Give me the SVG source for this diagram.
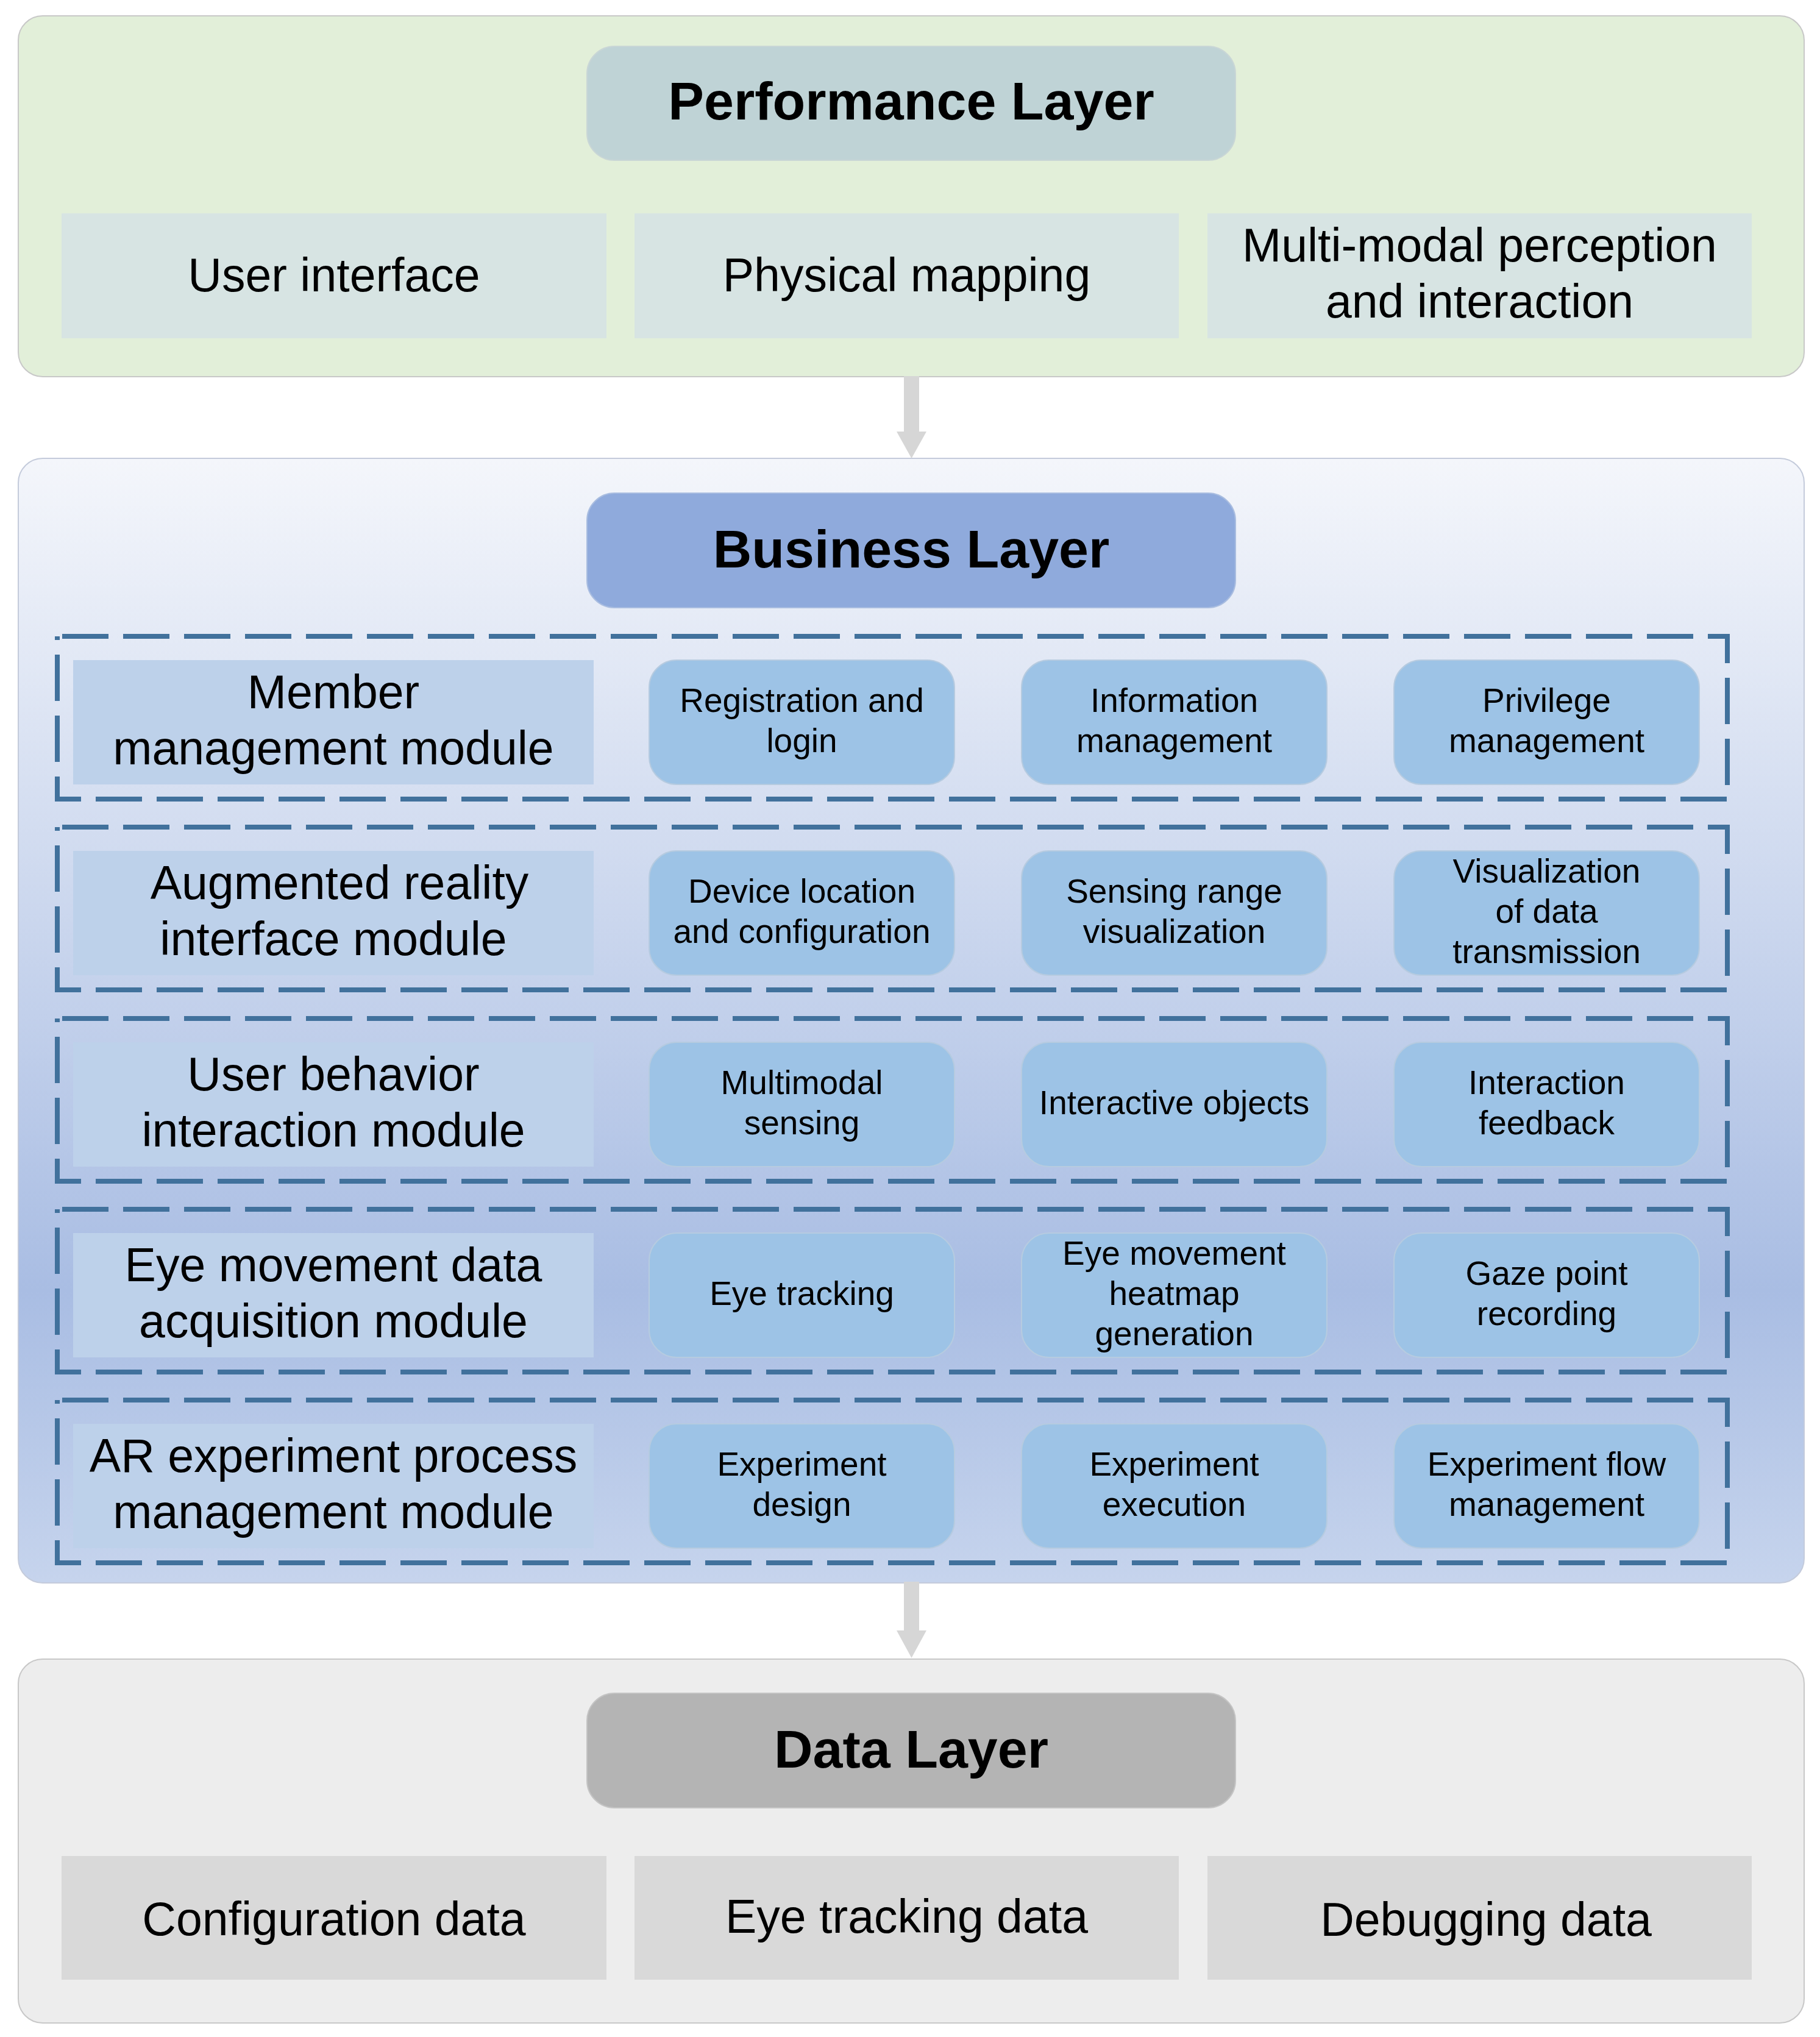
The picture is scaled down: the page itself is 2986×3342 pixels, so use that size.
<svg xmlns="http://www.w3.org/2000/svg" width="2986" height="3342" viewBox="0 0 2986 3342">
<defs>
<linearGradient id="bizGrad" x1="0" y1="0" x2="0" y2="1">
<stop offset="0" stop-color="#f4f6fb"/>
<stop offset="0.74" stop-color="#a9bde3"/>
<stop offset="1" stop-color="#c6d4ed"/>
</linearGradient>
<style>
text{font-family:"Liberation Sans",Arial,sans-serif;fill:#000;text-anchor:middle}
.title{font-size:88px;font-weight:bold}
.big{font-size:77px}
.small{font-size:55px}
.container{stroke:#c8c8c8;stroke-width:2}
.dash{fill:none;stroke:#41719c;stroke-width:8;stroke-dasharray:76 24;stroke-dashoffset:92}
.label{fill:#bdd1ea}
.sub{fill:#9dc3e6;stroke:#b6cbe0;stroke-width:2}
.arrow{fill:#d6d6d6}
</style>
</defs>
<rect width="2986" height="3342" fill="#ffffff"/>

<g id="performance-layer">
<rect class="container" x="30" y="26" width="2930" height="592" rx="40" fill="#e2efd9"/>
<g id="performance-title">
<rect x="963" y="76" width="1064" height="187" rx="45" fill="#bfd3d6" stroke="#c9d6d6" stroke-width="2"/>
<text class="title" x="1495" y="196">Performance Layer</text>
</g>
<g id="user-interface">
<rect x="101" y="350" width="894" height="205" fill="#d7e4e3"/>
<text class="big" x="548" y="478">User interface</text>
</g>
<g id="physical-mapping">
<rect x="1041" y="350" width="893" height="205" fill="#d7e4e3"/>
<text class="big" x="1487.5" y="478">Physical mapping</text>
</g>
<g id="multimodal-perception">
<rect x="1981" y="350" width="893" height="205" fill="#d7e4e3"/>
<text class="big" x="2427.5" y="429">Multi-modal perception</text>
<text class="big" x="2427.5" y="521">and interaction</text>
</g>
</g>

<g id="business-layer">
<rect x="30" y="752" width="2930" height="1845" rx="40" fill="url(#bizGrad)" stroke="#c4cbdb" stroke-width="2"/>
<g id="business-title">
<rect x="963" y="809" width="1064" height="188" rx="45" fill="#8faadc" stroke="#a9bde0" stroke-width="2"/>
<text class="title" x="1495" y="931">Business Layer</text>
</g>

<g id="member-module">
<rect class="dash" x="94" y="1044" width="2740" height="267"/>
<rect class="label" x="120" y="1083" width="854" height="204"/>
<text class="big" x="547" y="1162">Member</text>
<text class="big" x="547" y="1254">management module</text>
<g id="registration-login"><rect class="sub" x="1065" y="1083" width="501" height="204" rx="45"/>
<text class="small" x="1315.5" y="1168">Registration and</text><text class="small" x="1315.5" y="1234">login</text></g>
<g id="information-management"><rect class="sub" x="1676" y="1083" width="501" height="204" rx="45"/>
<text class="small" x="1926.5" y="1168">Information</text><text class="small" x="1926.5" y="1234">management</text></g>
<g id="privilege-management"><rect class="sub" x="2287" y="1083" width="501" height="204" rx="45"/>
<text class="small" x="2537.5" y="1168">Privilege</text><text class="small" x="2537.5" y="1234">management</text></g>
</g>

<g id="ar-interface-module">
<rect class="dash" x="94" y="1357" width="2740" height="267"/>
<rect class="label" x="120" y="1396" width="854" height="204"/>
<text class="big" x="557" y="1475">Augmented reality</text>
<text class="big" x="547" y="1567">interface module</text>
<g id="device-location"><rect class="sub" x="1065" y="1396" width="501" height="204" rx="45"/>
<text class="small" x="1315.5" y="1481">Device location</text><text class="small" x="1315.5" y="1547">and configuration</text></g>
<g id="sensing-range"><rect class="sub" x="1676" y="1396" width="501" height="204" rx="45"/>
<text class="small" x="1926.5" y="1481">Sensing range</text><text class="small" x="1926.5" y="1547">visualization</text></g>
<g id="data-transmission-vis"><rect class="sub" x="2287" y="1396" width="501" height="204" rx="45"/>
<text class="small" x="2537.5" y="1448">Visualization</text><text class="small" x="2537.5" y="1514">of data</text><text class="small" x="2537.5" y="1580">transmission</text></g>
</g>

<g id="user-behavior-module">
<rect class="dash" x="94" y="1671" width="2740" height="267"/>
<rect class="label" x="120" y="1710" width="854" height="204"/>
<text class="big" x="547" y="1789">User behavior</text>
<text class="big" x="547" y="1881">interaction module</text>
<g id="multimodal-sensing"><rect class="sub" x="1065" y="1710" width="501" height="204" rx="45"/>
<text class="small" x="1315.5" y="1795">Multimodal</text><text class="small" x="1315.5" y="1861">sensing</text></g>
<g id="interactive-objects"><rect class="sub" x="1676" y="1710" width="501" height="204" rx="45"/>
<text class="small" x="1926.5" y="1828">Interactive objects</text></g>
<g id="interaction-feedback"><rect class="sub" x="2287" y="1710" width="501" height="204" rx="45"/>
<text class="small" x="2537.5" y="1795">Interaction</text><text class="small" x="2537.5" y="1861">feedback</text></g>
</g>

<g id="eye-movement-module">
<rect class="dash" x="94" y="1984" width="2740" height="267"/>
<rect class="label" x="120" y="2023" width="854" height="204"/>
<text class="big" x="547" y="2102">Eye movement data</text>
<text class="big" x="547" y="2194">acquisition module</text>
<g id="eye-tracking"><rect class="sub" x="1065" y="2023" width="501" height="204" rx="45"/>
<text class="small" x="1315.5" y="2141">Eye tracking</text></g>
<g id="heatmap-generation"><rect class="sub" x="1676" y="2023" width="501" height="204" rx="45"/>
<text class="small" x="1926.5" y="2075">Eye movement</text><text class="small" x="1926.5" y="2141">heatmap</text><text class="small" x="1926.5" y="2207">generation</text></g>
<g id="gaze-point-recording"><rect class="sub" x="2287" y="2023" width="501" height="204" rx="45"/>
<text class="small" x="2537.5" y="2108">Gaze point</text><text class="small" x="2537.5" y="2174">recording</text></g>
</g>

<g id="ar-experiment-module">
<rect class="dash" x="94" y="2297" width="2740" height="267"/>
<rect class="label" x="120" y="2336" width="854" height="204"/>
<text class="big" x="547" y="2415">AR experiment process</text>
<text class="big" x="547" y="2507">management module</text>
<g id="experiment-design"><rect class="sub" x="1065" y="2336" width="501" height="204" rx="45"/>
<text class="small" x="1315.5" y="2421">Experiment</text><text class="small" x="1315.5" y="2487">design</text></g>
<g id="experiment-execution"><rect class="sub" x="1676" y="2336" width="501" height="204" rx="45"/>
<text class="small" x="1926.5" y="2421">Experiment</text><text class="small" x="1926.5" y="2487">execution</text></g>
<g id="experiment-flow"><rect class="sub" x="2287" y="2336" width="501" height="204" rx="45"/>
<text class="small" x="2537.5" y="2421">Experiment flow</text><text class="small" x="2537.5" y="2487">management</text></g>
</g>
</g>

<g id="data-layer">
<rect class="container" x="30" y="2722" width="2930" height="597" rx="40" fill="#ededed"/>
<g id="data-title">
<rect x="963" y="2778" width="1064" height="188" rx="45" fill="#b4b4b4" stroke="#c4c4c4" stroke-width="2"/>
<text class="title" x="1495" y="2900">Data Layer</text>
</g>
<g id="configuration-data">
<rect x="101" y="3045" width="894" height="203" fill="#d9d9d9"/>
<text class="big" x="548" y="3175">Configuration data</text>
</g>
<g id="eye-tracking-data">
<rect x="1041" y="3045" width="893" height="203" fill="#d9d9d9"/>
<text class="big" x="1487.5" y="3171">Eye tracking data</text>
</g>
<g id="debugging-data">
<rect x="1981" y="3045" width="893" height="203" fill="#d9d9d9"/>
<text class="big" x="2438" y="3176">Debugging data</text>
</g>
</g>

<g id="connectors">
<path class="arrow" d="M1483 617 H1508 V708 H1520 L1495.5 752 L1471 708 H1483 Z"/>
<path class="arrow" d="M1483 2595 H1508 V2675 H1520 L1495.5 2720 L1471 2675 H1483 Z"/>
</g>
</svg>
